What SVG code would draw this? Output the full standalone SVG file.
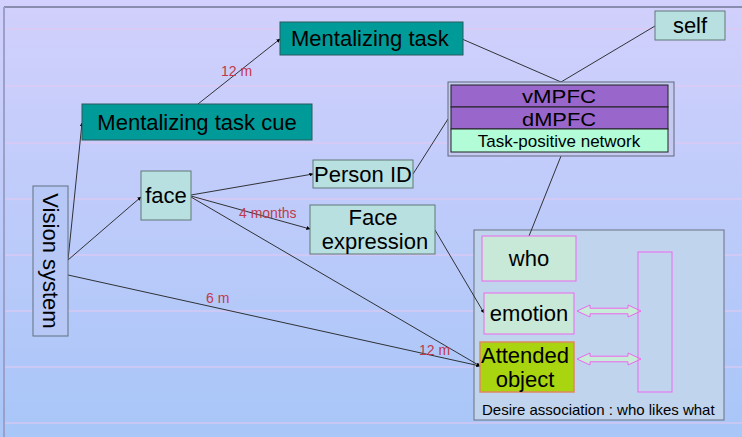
<svg xmlns="http://www.w3.org/2000/svg" width="742" height="437" viewBox="0 0 742 437">
<defs>
<linearGradient id="bg" x1="0" y1="0" x2="0" y2="1">
<stop offset="0" stop-color="#d2d0fc"/>
<stop offset="1" stop-color="#a8c6f8"/>
</linearGradient>
<marker id="ah" viewBox="0 0 10 10" refX="9" refY="5" markerWidth="4" markerHeight="4" orient="auto" markerUnits="userSpaceOnUse">
<path d="M0,0 L10,5 L0,10 Z" fill="#000"/>
</marker>
</defs>
<style>
text{font-family:"Liberation Sans",Arial,sans-serif;fill:#000;}
.big{font-size:22px;}
.mid{font-size:19px;}
.lbl{font-size:14px;fill:#c03a4a;}
.teal{fill:#009a98;stroke:#2a5a5a;stroke-width:1;}
.cyan{fill:#b8e0e0;stroke:#607878;stroke-width:1;}
.pur{fill:#9966cc;stroke:#202020;stroke-width:1;}
.pk{stroke:#ee66ee;stroke-width:1;}
.ln{fill:none;stroke:#202020;stroke-width:0.9;}
.grid{stroke:#e6c8f0;stroke-width:1;}
.dbl{fill:#c8ecd8;stroke:#ee66ee;stroke-width:1;}
</style>
<rect x="0" y="0" width="742" height="437" fill="url(#bg)"/>
<g id="gridlines">
<line class="grid" x1="5" y1="29" x2="742" y2="29"/>
<line class="grid" x1="5" y1="86" x2="742" y2="86"/>
<line class="grid" x1="5" y1="143" x2="742" y2="143"/>
<line class="grid" x1="5" y1="199" x2="742" y2="199"/>
<line class="grid" x1="5" y1="255" x2="742" y2="255"/>
<line class="grid" x1="5" y1="311" x2="742" y2="311"/>
<line class="grid" x1="5" y1="367" x2="742" y2="367"/>
<line class="grid" x1="5" y1="423" x2="742" y2="423"/>
</g>
<line x1="4" y1="7" x2="742" y2="7" stroke="#404a60" stroke-width="1.2"/>
<line x1="4" y1="7" x2="4" y2="437" stroke="#9aa0c8" stroke-width="2"/>

<g id="desire-assoc">
<rect x="474" y="230" width="250" height="190" fill="#c0d4ee" stroke="#6a7080" stroke-width="1"/>
<text x="482" y="415" style="font-size:15px">Desire association : who likes what</text>
</g>

<g id="connectors">
<line class="ln" x1="68" y1="260" x2="82" y2="123" marker-end="url(#ah)"/>
<line class="ln" x1="68" y1="260" x2="141" y2="197" marker-end="url(#ah)"/>
<line class="ln" x1="68" y1="275" x2="480" y2="366" marker-end="url(#ah)"/>
<line class="ln" x1="198" y1="104" x2="280" y2="39" marker-end="url(#ah)"/>
<line class="ln" x1="191" y1="195" x2="313" y2="174" marker-end="url(#ah)"/>
<line class="ln" x1="191" y1="196" x2="310" y2="229" marker-end="url(#ah)"/>
<line class="ln" x1="191" y1="197" x2="480" y2="366" marker-end="url(#ah)"/>
<line class="ln" x1="435" y1="230" x2="484" y2="313" marker-end="url(#ah)"/>
<line class="ln" x1="413" y1="174" x2="448" y2="119"/>
<line class="ln" x1="462" y1="39" x2="561" y2="82"/>
<line class="ln" x1="655" y1="26" x2="561" y2="82"/>
<line class="ln" x1="561" y1="156" x2="529" y2="236"/>
<path class="dbl" d="M577,311 L590,305 L590,308.2 L628,308.2 L628,305 L641,311 L628,317 L628,313.8 L590,313.8 L590,317 Z"/>
<path class="dbl" d="M577,359 L590,353 L590,356.2 L628,356.2 L628,353 L641,359 L628,365 L628,361.8 L590,361.8 L590,365 Z"/>
<text class="lbl" x="221" y="76">12 m</text>
<text class="lbl" x="239" y="218">4 months</text>
<text class="lbl" x="206" y="303">6 m</text>
<text class="lbl" x="419" y="355">12 m</text>
</g>

<g id="mentalizing-task">
<rect class="teal" x="280" y="22" width="183" height="33"/>
<text class="big" x="291" y="46">Mentalizing task</text>
</g>
<g id="self">
<rect class="cyan" x="655" y="11" width="70" height="29"/>
<text class="big" x="690" y="33" text-anchor="middle">self</text>
</g>
<g id="mentalizing-task-cue">
<rect class="teal" x="82" y="104" width="230" height="36"/>
<text class="big" x="197" y="130" text-anchor="middle">Mentalizing task cue</text>
</g>
<g id="mpfc">
<rect x="448" y="82" width="226" height="74" fill="#c4caf0" stroke="#606880" stroke-width="1"/>
<rect class="pur" x="451" y="85" width="217" height="22"/>
<text class="mid" x="559" y="103" text-anchor="middle" textLength="74" lengthAdjust="spacingAndGlyphs">vMPFC</text>
<rect class="pur" x="451" y="107" width="217" height="22"/>
<text class="mid" x="559" y="125.5" text-anchor="middle" textLength="74" lengthAdjust="spacingAndGlyphs">dMPFC</text>
<rect x="451" y="129" width="217" height="23" fill="#b2fcd8" stroke="#202020" stroke-width="1"/>
<text x="559" y="147" text-anchor="middle" style="font-size:17px">Task-positive network</text>
</g>
<g id="person-id">
<rect class="cyan" x="313" y="160" width="100" height="28"/>
<text class="big" x="363" y="182" text-anchor="middle">Person ID</text>
</g>
<g id="face">
<rect class="cyan" x="141" y="171" width="50" height="49"/>
<text class="big" x="166" y="203" text-anchor="middle">face</text>
</g>
<g id="vision-system">
<rect x="33" y="186" width="35" height="150" fill="#b8c8f6" stroke="#607080" stroke-width="1"/>
<text class="big" transform="translate(43,261) rotate(90)" text-anchor="middle">Vision system</text>
</g>
<g id="face-expression">
<rect class="cyan" x="310" y="205" width="125" height="49"/>
<text class="big" x="373" y="225" text-anchor="middle">Face</text>
<text class="big" x="375" y="249" text-anchor="middle">expression</text>
</g>
<g id="who">
<rect class="pk" x="482" y="236" width="94" height="45" fill="#c8e8d8"/>
<text class="big" x="529" y="266" text-anchor="middle">who</text>
</g>
<g id="emotion">
<rect class="pk" x="484" y="293" width="90" height="41" fill="#c8e8d8"/>
<text class="big" x="529" y="321" text-anchor="middle">emotion</text>
</g>
<g id="attended-object">
<rect x="480" y="342" width="94" height="50" fill="#a8d410" stroke="#e08860" stroke-width="1.5"/>
<text class="big" x="525" y="363" text-anchor="middle">Attended</text>
<text class="big" x="525" y="387" text-anchor="middle">object</text>
</g>
<g id="desire-column">
<rect class="pk" x="638" y="252" width="34" height="140" fill="none"/>
</g>
</svg>
